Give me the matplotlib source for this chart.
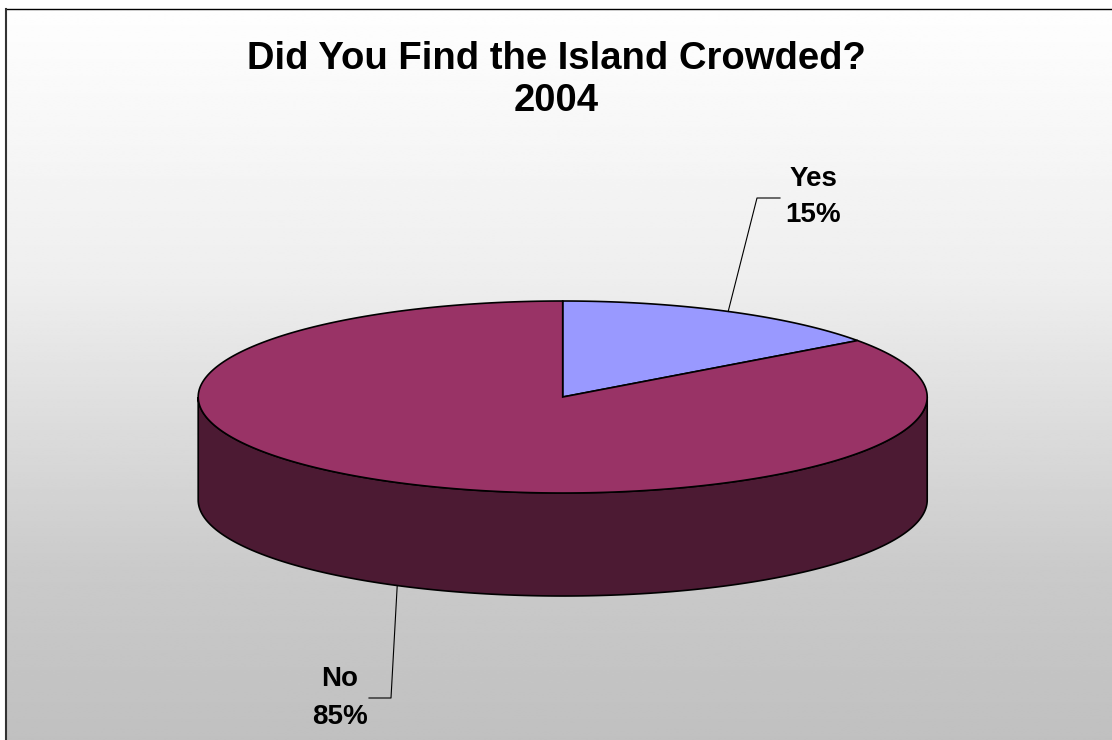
import numpy as np
import matplotlib
matplotlib.use("Agg")
import matplotlib.pyplot as plt
from matplotlib.patches import Polygon

# survey answers
categories = ["Yes", "No"]
values = [15, 85]
title = "Did You Find the Island Crowded?\n2004"

top_colors = ["#9999FF", "#993366"]
side_colors = ["#4C1A33", "#4C1A33"]

W, H = 1112, 740
fig = plt.figure(figsize=(W / 100, H / 100), dpi=100)
ax = fig.add_axes([0, 0, 1, 1])
ax.set_xlim(0, W)
ax.set_ylim(H, 0)
ax.axis("off")

# background gradient inside the chart frame
left, top = 6, 9
ys = np.linspace(top, H, 300)
shade = np.interp(ys, [top, 280, 570, H], [254, 238, 202, 192]) / 255.0
grad = np.repeat(shade[:, None], 2, axis=1)
ax.imshow(grad, cmap="gray", vmin=0, vmax=1, aspect="auto",
          extent=[left, W + 2, H + 2, top], interpolation="bilinear", zorder=0)
ax.plot([left, W + 2], [top, top], color="black", lw=1.0, zorder=1)
ax.plot([left, left], [top, H + 2], color="#333333", lw=1.5, zorder=1)

# 3d pie geometry
cx, cy = 562.7, 397.0
a, b, depth = 364.5, 96.0, 103.0


def rim(theta, dy=0.0):
    t = np.radians(theta)
    return cx + a * np.sin(t), cy - b * np.cos(t) + dy


total = float(sum(values))
angles = np.concatenate([[0.0], np.cumsum(values) / total * 360.0])

# visible front wall (angles 90..270 measured clockwise from 12 o'clock)
for i in range(len(values)):
    lo = max(angles[i], 90.0)
    hi = min(angles[i + 1], 270.0)
    if hi <= lo:
        continue
    th = np.linspace(lo, hi, 200)
    x1, y1 = rim(th)
    x2, y2 = rim(th[::-1], depth)
    pts = np.column_stack([np.concatenate([x1, x2]), np.concatenate([y1, y2])])
    ax.add_patch(Polygon(pts, closed=True, facecolor=side_colors[i],
                         edgecolor="black", lw=1.2, zorder=2))

# top faces
for i in range(len(values)):
    th = np.linspace(angles[i], angles[i + 1], 300)
    x, y = rim(th)
    pts = np.column_stack([np.concatenate([[cx], x]), np.concatenate([[cy], y])])
    ax.add_patch(Polygon(pts, closed=True, facecolor=top_colors[i],
                         edgecolor="black", lw=1.2, zorder=3))

# labels with leader lines
label_pos = [(813, 197), (340, 698)]
elbow = [(757, 198, 780), (391, 698, 369)]
for i, name in enumerate(categories):
    mid = (angles[i] + angles[i + 1]) / 2
    front = 90 < mid < 270
    sx, sy = rim(mid, depth if front else 0.0)
    ex, ey, hx = elbow[i]
    ax.plot([sx, ex, hx], [sy, ey, ey], color="black", lw=0.8, zorder=4)
    pct = values[i] / total * 100
    ax.text(label_pos[i][0], label_pos[i][1], f"{name}\n{pct:.0f}%",
            ha="center", va="center", multialignment="center",
            fontsize=20, fontweight="bold", family="Liberation Sans",
            linespacing=1.55, zorder=5)

ax.text(556, 80, title, ha="center", va="center", multialignment="center",
        fontsize=27.5, fontweight="bold", family="Liberation Sans",
        linespacing=1.2, zorder=5)

fig.savefig("out.png", dpi=100)
